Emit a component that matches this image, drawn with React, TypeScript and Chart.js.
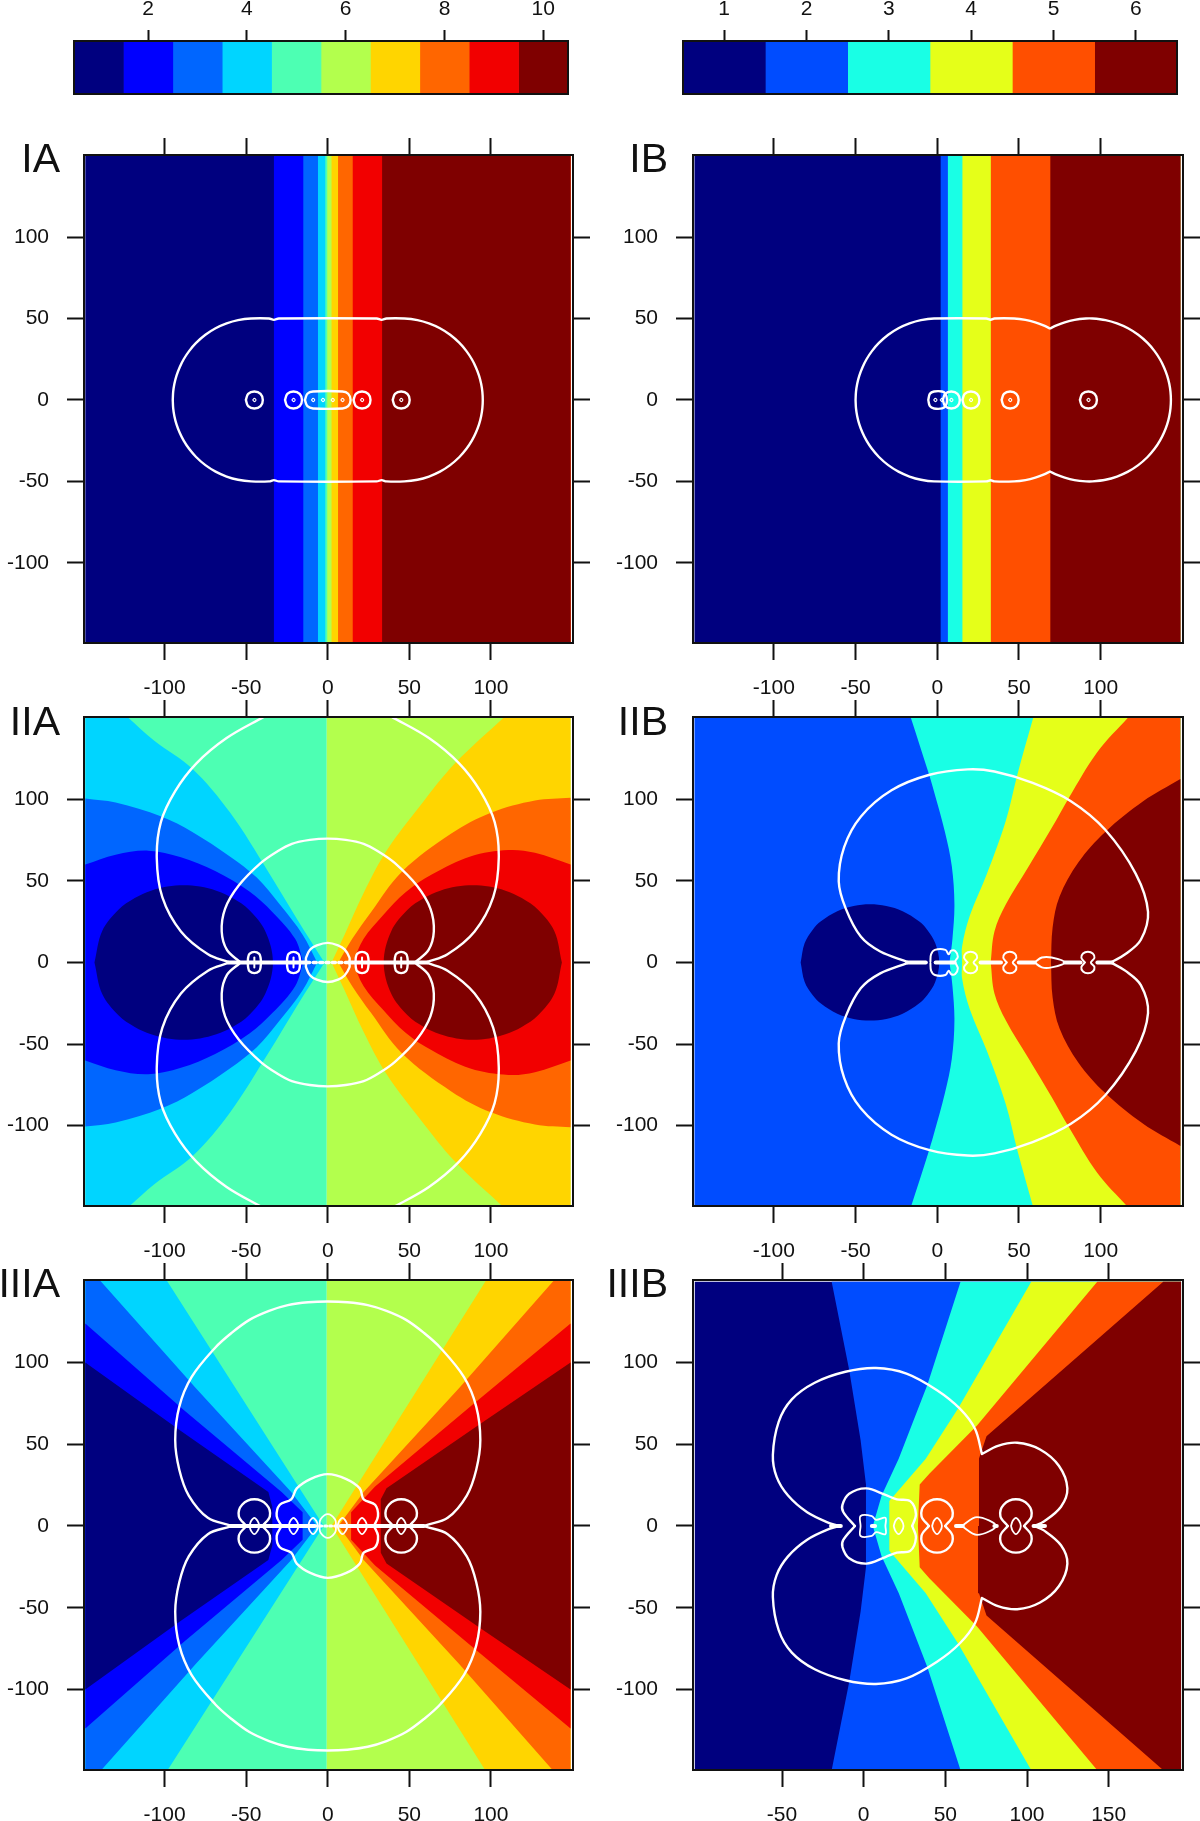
import React, { useEffect, useRef } from "react";
import { Chart, registerables } from "chart.js";

Chart.register(...registerables);

type Pt = [number, number];

// ---------- colours ----------
const JET10 = ["#00007F", "#0000FF", "#0066FF", "#00D5FF", "#4DFFB3", "#B3FF4D", "#FFD500", "#FF6600", "#F20000", "#7F0000"];
const JET6 = ["#00007F", "#004CFF", "#19FFE5", "#E5FF19", "#FF4F00", "#7F0000"];

// ---------- ticks ----------
const BAR_TICKS_A = [2, 4, 6, 8, 10];
const BAR_TICKS_B = [1, 2, 3, 4, 5, 6];
const X_TICKS = [-100, -50, 0, 50, 100];
const X_TICKS_IIIB = [-50, 0, 50, 100, 150];
const Y_TICKS = [-100, -50, 0, 50, 100];

// ---------- field limits of the image inside the box ----------
const XL = -148.6, XR = 148.8, YT = 150.6, YT3 = 149.3;
const XL3 = -103.4, XR3 = 194.3;

// ---------- IA / IB: vertical boundaries ----------
const IA_BOUNDS = [-33, -15, -6, -1.5, -0.3, 2.3, 6.3, 15.3, 33.3];
const IB_BOUNDS = [2.1, 6.5, 15.4, 32.8, 69.2];

// ---------- IIA boundaries (y >= 0) ----------
const IIA_CYAN: Pt[] = [[-2, 0], [-8.4, 10], [-20, 28.5], [-36.4, 55.5], [-60, 92], [-83, 118.7], [-106.5, 136], [-123, YT]];
const IIA_LBLUE: Pt[] = [[-6.5, 0], [-15.4, 17], [-29.5, 35.6], [-43.5, 52], [-60, 65], [-83, 80], [-102, 89.5], [-130, 98], [XL, 100.5]];
const IIA_BLUE: Pt[] = [[-15, 0], [-20, 14.5], [-34, 31], [-48, 43.5], [-69, 56], [-90, 64.5], [-110, 68.5], [-130, 66], [XL, 60]];
const IIA_NAVY: Pt[] = [[-143, 0], [-138.3, 19.2], [-128.3, 32.3], [-118.3, 39.5], [-108.3, 44], [-98.3, 46.5], [-88.3, 47.3], [-78.3, 46.5], [-68.3, 44], [-58.3, 39.5], [-48.3, 32.3], [-38.3, 19.2], [-33.6, 0]];
const IIA_YELLOW: Pt[] = [[2.3, 0], [10.3, 17], [22, 42.6], [36, 68.4], [57, 96.5], [78, 122], [108.4, YT]];
const IIA_ORANGE: Pt[] = [[6.5, 0], [15, 14.5], [26.6, 31], [45.3, 55.5], [75.7, 79], [100, 91.8], [127, 99.3], [XR, 101]];
const IIA_RED: Pt[] = [[15.4, 0], [22, 14.5], [33.6, 28.6], [47.7, 43], [64, 54], [87.4, 65], [110.7, 68.9], [127, 67.2], [XR, 60]];
const IIA_MAROON: Pt[] = [[143.5, 0], [138.9, 19.2], [128.9, 32.3], [118.9, 39.5], [108.9, 44], [98.9, 46.5], [88.9, 47.3], [78.9, 46.5], [68.9, 44], [58.9, 39.5], [48.9, 32.3], [38.9, 19.2], [34.3, 0]];

// ---------- IIB boundaries ----------
const IIB_NAVY: Pt[] = [[-83.6, 0], [-81.2, 11.8], [-76.2, 20.1], [-71.2, 25.2], [-61.2, 31.4], [-51.2, 34.6], [-41.2, 35.6], [-31.2, 34.6], [-21.2, 31.4], [-11.2, 25.2], [-6.2, 20.1], [-1.2, 11.8], [1.2, 0]];
const IIB_TURQ: Pt[] = [[7.5, 0], [9.3, 14.5], [10.5, 35.6], [8.9, 59], [4.7, 80], [-2.3, 105.9], [-5.8, 117.6], [-16.4, YT]];
const IIB_YELLOW: Pt[] = [[15.2, 0], [15.2, 9.8], [19.9, 28.6], [30.4, 54.3], [42, 87], [49, 115], [58.9, YT]];
const IIB_ORANGE: Pt[] = [[32.7, 0], [35, 19], [42, 35.6], [56, 59], [70, 82.4], [80.6, 101], [98, 129], [117.3, YT]];
const IIB_MAROON: Pt[] = [[69.6, 0], [70.6, 21.5], [74.8, 40.3], [86.4, 61.4], [102.8, 80], [126, 98.8], [XR, 112.4]];

// ---------- IIIA boundaries ----------
const IIIA_CYAN: Pt[] = [[-2.5, 0], [-99, YT]];
const IIIA_LBLUE: Pt[] = [[-6.5, 0], [-22.4, 20.8], [-80.8, 84.2], [-140, YT]];
const IIIA_BLUE: Pt[] = [[-15.4, 0], [-15.4, 8.4], [-28.3, 20.8], [-87.9, 70.6], [XL, 123.8]];
const IIIA_NAVY: Pt[] = [[-34, 0], [-34, 11.8], [-36.4, 20.8], [-90, 58], [XL, 100]];
const IIIA_YELLOW: Pt[] = [[2.3, 0], [97.3, YT]];
const IIIA_ORANGE: Pt[] = [[6.5, 0], [22, 20.8], [80.4, 84.2], [139, YT]];
const IIIA_RED: Pt[] = [[14.3, 0], [14.3, 8.4], [29, 24.2], [87.4, 73], [XR, 123.8]];
const IIIA_MAROON: Pt[] = [[32.5, 0], [32.5, 16.3], [36, 23], [92, 61.5], [XR, 100]];

// ---------- IIIB boundaries ----------
const IIIB_BLUE: Pt[] = [[1.4, 0], [1.4, 25.3], [-1.9, 52.5], [-8.9, 95.5], [-19.6, YT3]];
const IIIB_TURQ: Pt[] = [[5.6, 0], [11, 18.6], [21.5, 41.2], [39, 86.4], [59.3, YT3]];
const IIIB_YELLOW: Pt[] = [[15.7, 0], [15.7, 15.2], [37.9, 41], [57.7, 71.7], [102.6, YT3]];
const IIIB_ORANGE: Pt[] = [[33.2, 0], [34.3, 25.3], [40.2, 32], [69.4, 61.5], [143, YT3]];
const IIIB_MAROON: Pt[] = [[70, 0], [70.6, 41.2], [75.2, 54.8], [183.4, YT3]];

// ---------- white contours (y >= 0) ----------
const IA_OUTER: Pt[] = [[-95, 0], [-94.75, 5], [-94, 10], [-92.7, 15], [-90.8, 20], [-88.3, 25], [-85, 30], [-80.7, 35], [-75, 40], [-68.75, 44], [-62, 47], [-55, 49], [-47, 50], [-36, 50], [-33, 49.2], [-30, 50], [30, 50], [33, 49.2], [36, 50], [47, 50], [55, 49], [62, 47], [68.75, 44], [75, 40], [80.7, 35], [85, 30], [88.3, 25], [90.8, 20], [92.7, 15], [94, 10], [94.75, 5], [95, 0]];
const IA_PILL: Pt[] = [[-14, 0], [-12.5, 3.8], [-9, 5.2], [9, 5.2], [12.5, 3.8], [14, 0]];
const IA_RINGS = [-45, -21, 21, 45];
const IA_DOTS = [-45, -21, -9, -3, 3, 9, 21, 45];

const IB_OUTER: Pt[] = [[-50, 0], [-49.75, 5], [-49, 10], [-47.7, 15], [-45.8, 20], [-43.3, 25], [-40, 30], [-35.7, 35], [-30, 40], [-23.75, 44], [-17, 47], [-10, 49], [-2, 50], [30, 50], [32.7, 49.3], [35, 50], [47, 50], [54, 49.2], [60, 47.7], [65, 45.8], [69, 43.9], [69, 43.9], [73, 45.8], [78, 47.7], [84, 49.2], [91, 50], [95, 50], [103, 49], [110, 47], [116.75, 44], [123, 40], [128.7, 35], [133, 30], [136.3, 25], [138.8, 20], [140.7, 15], [142, 10], [142.75, 5], [143, 0]];
const IB_PILL: Pt[] = [[-5.5, 0], [-4.5, 3.8], [-2, 5.2], [3, 5.2], [5, 3.8], [6, 0]];
const IB_RINGS = [8.6, 20.6, 44.6, 92.5];
const IB_DOTS = [-1.2, 2.8, 8.6, 20.6, 44.6, 92.5];

const IIA_OUTER_L: Pt[] = [[-61, 0.3], [-73.4, 5], [-90, 19], [-101.4, 40], [-104.8, 64], [-102.3, 86], [-93.5, 105], [-80.5, 122], [-62, 137.5], [-39, 150.6]];
const IIA_OUTER_R: Pt[] = [[39, 150.6], [62, 137.5], [80.5, 122], [93.5, 105], [102.3, 86], [104.8, 64], [101.4, 40], [90, 19], [73.4, 5], [61, 0.3]];
const IIA_INNER: Pt[] = [[-54, 0.5], [-61.7, 7.5], [-65, 19], [-62.9, 33], [-54.7, 47], [-41, 61], [-31, 68], [-22, 72.7], [-11, 75.1], [0, 75.9], [11, 75.1], [22, 72.7], [31, 68], [41, 61], [54.7, 47], [62.9, 33], [65, 19], [61.7, 7.5], [54, 0.5]];
const IIA_CENTER: Pt[] = [[-13.3, 0.3], [-13.3, 3], [-10.8, 8], [-6.7, 10.5], [0, 12], [6.3, 10.5], [10.3, 8], [13.3, 3], [13.3, 0.3]];
const IIA_CELLS = [-45, -21, 21, 45];
const IIA_AXIS: Pt[] = [[-61, 0], [-13, 0]];
const IIA_AXIS_R: Pt[] = [[13, 0], [61, 0]];
const IIA_AXIS_C: Pt[] = [[-13, 0], [13, 0]];

const IIB_OUTER: Pt[] = [[-18.4, 0.4], [-34.9, 6.7], [-46.7, 15.7], [-56, 33], [-60.3, 49.6], [-57, 70.7], [-46.7, 89.5], [-28, 105.5], [-4.7, 115], [18.7, 118.3], [35, 117], [58.4, 110], [81.8, 98.8], [102.8, 81.3], [121.5, 54.3], [129, 31], [124.6, 13.9], [115, 5], [107, 0.4]];
const IIB_PILL: Pt[] = [[-4.2, 0.5], [-3.8, 5], [-1.5, 7.7], [5, 7.7], [7, 5], [8.5, 7.2], [11, 7], [12.6, 3.5], [11, 0.5]];
const IIB_DIAMOND: Pt[] = [[59.6, 0], [64, 3], [70, 3], [78, 0]];
const IIB_CELLS = [20.4, 44.4, 92.2];
const IIB_SEGS: Pt[][] = [[[-18.4, 0], [-7, 0]], [[-1, 0], [10.5, 0]], [[26.5, 0], [39, 0]], [[49.9, 0], [59.6, 0]], [[78, 0], [87.7, 0]], [[98, 0], [107, 0]]];

const IIIA_OUTER: Pt[] = [[-60, 0.4], [-73.5, 5], [-85.2, 18.6], [-91, 34.4], [-93.5, 52.5], [-91, 73], [-83.5, 91], [-69, 109], [-59, 118], [-48, 126], [-36, 131.5], [-24.5, 135], [-12, 136.8], [0, 137.3], [12, 136.8], [24.5, 135], [36, 131.5], [48, 126], [59, 118], [69, 109], [83.5, 91], [91, 73], [93.5, 52.5], [91, 34.4], [85.2, 18.6], [73.5, 5], [60, 0.4]];
const IIIA_INNER: Pt[] = [[-28.3, 0], [-31.3, 6], [-29.4, 13], [-22.4, 16.3], [-19, 23], [-10.7, 28.7], [0, 31.7], [11.4, 28.7], [19.6, 23], [22, 16.3], [29, 13], [30.8, 6], [28.3, 0]];
const IIIA_DOME: Pt[] = [[-5, 0], [-4.5, 4], [0, 7.3], [4.5, 4], [5, 0]];
const IIIA_LOBES = [-45, 45];
const IIIA_PINCH = [-45, -21, -9, 9, 21, 45];
const IIIA_AXIS: Pt[] = [[-60, 0], [-8, 0]];
const IIIA_AXIS_R: Pt[] = [[8, 0], [59, 0]];
const IIIA_AXIS_C: Pt[] = [[-8, 0], [8, 0]];

const IIIB_OUTER: Pt[] = [[-14.7, 0], [-20.6, 1.6], [-34.6, 8.4], [-46.3, 18.6], [-53.3, 30], [-55.6, 43.4], [-52, 63.8], [-44, 77.4], [-30, 87.6], [-11.2, 94.3], [7.5, 96.6], [26.2, 93.2], [44.9, 83], [58.9, 71.7], [68.2, 59.3], [72.4, 44], [72.4, 44], [82.2, 49], [94, 50.9], [108, 46.8], [119.6, 36.7], [124.7, 23], [120.8, 11.8], [110.3, 2.7], [104.4, 0]];
const IIIB_INNER: Pt[] = [[-5.4, 0], [-12.4, 8.4], [-13, 12.9], [-8.9, 19.7], [1.6, 23], [13.3, 19], [20.3, 16.3], [28.5, 15.2], [32, 7.2], [29.7, 0]];
const IIIB_PILL: Pt[] = [[-1.9, 0], [-1.9, 6.1], [5, 6.1], [7.5, 3.8], [13.3, 5], [13.3, 0]];
const IIIB_DIAMOND: Pt[] = [[60, 0], [69.4, 5.4], [81, 0]];
const IIIB_LOBES = [44.9, 93.2];
const IIIB_PINCH = [21.4, 44.9, 93.2];
const IIIB_SEGS: Pt[][] = [[[-20, 0], [-14, 0]], [[5, 0], [7, 0]], [[56.5, 0], [60.7, 0]], [[80, 0], [81.5, 0]], [[104, 0], [111, 0]]];

// small outlines, offsets around an electrode
const RING: Pt[] = [[-5.2, 0], [-3.8, 3.8], [0, 5.2], [3.8, 3.8], [5.2, 0]];
const DOT: Pt[] = [[-1, 0], [0, 1], [1, 0]];
const CELL: Pt[] = [[-4, 0.3], [-3.8, 3], [-3, 5.3], [0, 6.5], [3, 5.3], [3.8, 3], [4, 0.3]];
const CELL8: Pt[] = [[-1.8, 0], [-4, 2.8], [-3, 5.5], [0, 6.6], [3, 5.5], [4, 2.8], [1.8, 0]];
const CELL_BAR: Pt[] = [[0, -3], [0, 3]];
const LOBE: Pt[] = [[-5, 0], [-9.5, 6], [-7.5, 13], [0, 16.3], [7.5, 13], [9.5, 6], [5, 0]];
const PINCH: Pt[] = [[-3, 0], [-2, 3], [0, 5], [2, 3], [3, 0]];

// ---------- helpers for building datasets ----------
const WHITE_W = 2.4;
const loop = (u: Pt[]): Pt[] => [...u, ...[...u].reverse().slice(1).map(([x, y]): Pt => [x, -y])];
const flip = (u: Pt[]): Pt[] => u.map(([x, y]): Pt => [x, -y]);
const shift = (u: Pt[], c: number): Pt[] => u.map(([x, y]): Pt => [x + c, y]);
const toEdge = (c: Pt[], edge: number): Pt[] => {
  const last = c[c.length - 1];
  const corner: Pt = [edge, last[1]];
  return [...c, last, corner, corner, [edge, 0]];
};
const vert = (x: number, top = YT): Pt[] => [[x, 0], [x, top]];

const area = (u: Pt[], color: string, tension = 0) => ({
  data: loop(u).map(([x, y]) => ({ x, y })),
  showLine: true, fill: "shape", backgroundColor: color, borderWidth: 0, pointRadius: 0, tension,
});
const stroke = (pts: Pt[], w = WHITE_W, dash: number[] = [], tension = 0.35) => ({
  data: pts.map(([x, y]) => ({ x, y })),
  showLine: true, fill: false, borderColor: "#FFFFFF", borderWidth: w, borderDash: dash,
  borderJoinStyle: "round", borderCapStyle: "round", pointRadius: 0, tension,
});
const both = (u: Pt[], w = WHITE_W) => [stroke(u, w), stroke(flip(u), w)];
const closed = (u: Pt[], w = WHITE_W) => [stroke(loop(u), w)];
const CURVE = 0.35;
const THICK = 4;

const bands = (bounds: number[], colors: string[], xl: number, xr: number) => [
  area(toEdge(vert(xl), xr), colors[0]),
  ...bounds.map((b, i) => area(toEdge(vert(b), xr), colors[i + 1])),
];

const datasetsIA = [
  ...bands(IA_BOUNDS, JET10, XL, XR),
  ...closed(IA_OUTER), ...closed(IA_PILL),
  ...IA_RINGS.flatMap((c) => closed(shift(RING, c))),
  ...IA_DOTS.flatMap((c) => closed(shift(DOT, c), 1.1)),
];
const datasetsIB = [
  ...bands(IB_BOUNDS, JET6, XL, XR),
  ...closed(IB_OUTER), ...closed(IB_PILL),
  ...IB_RINGS.flatMap((c) => closed(shift(RING, c))),
  ...IB_DOTS.flatMap((c) => closed(shift(DOT, c), 1.1)),
];
const datasetsIIA = [
  area(toEdge(vert(-0.6), XL), JET10[4]),
  area(toEdge(vert(-0.6), XR), JET10[5]),
  area(toEdge(IIA_CYAN, XL), JET10[3], CURVE),
  area(toEdge(IIA_LBLUE, XL), JET10[2], CURVE),
  area(toEdge(IIA_BLUE, XL), JET10[1], CURVE),
  area(IIA_NAVY, JET10[0], CURVE),
  area(toEdge(IIA_YELLOW, XR), JET10[6], CURVE),
  area(toEdge(IIA_ORANGE, XR), JET10[7], CURVE),
  area(toEdge(IIA_RED, XR), JET10[8], CURVE),
  area(IIA_MAROON, JET10[9], CURVE),
  ...both(IIA_OUTER_L), ...both(IIA_OUTER_R), ...both(IIA_INNER), ...both(IIA_CENTER),
  ...IIA_CELLS.flatMap((c) => closed(shift(CELL, c))),
  ...IIA_CELLS.map((c) => stroke(shift(CELL_BAR, c), 2)),
  stroke(IIA_AXIS, THICK), stroke(IIA_AXIS_R, THICK), stroke(IIA_AXIS_C, 3.5, [3, 3.5]),
];
const datasetsIIB = [
  area(toEdge(vert(XL), XR), JET6[1]),
  area(IIB_NAVY, JET6[0], CURVE),
  area(toEdge(IIB_TURQ, XR), JET6[2], CURVE),
  area(toEdge(IIB_YELLOW, XR), JET6[3], CURVE),
  area(toEdge(IIB_ORANGE, XR), JET6[4], CURVE),
  area(toEdge(IIB_MAROON, XR), JET6[5], CURVE),
  ...both(IIB_OUTER), ...closed(IIB_PILL, 2), ...closed(IIB_DIAMOND, 2),
  ...IIB_CELLS.flatMap((c) => closed(shift(CELL8, c), 2)),
  ...IIB_SEGS.map((s) => stroke(s, THICK)),
];
const datasetsIIIA = [
  area(toEdge(vert(-0.6), XL), JET10[4]),
  area(toEdge(vert(-0.6), XR), JET10[5]),
  area(toEdge(IIIA_CYAN, XL), JET10[3]),
  area(toEdge(IIIA_LBLUE, XL), JET10[2]),
  area(toEdge(IIIA_BLUE, XL), JET10[1]),
  area(toEdge(IIIA_NAVY, XL), JET10[0]),
  area(toEdge(IIIA_YELLOW, XR), JET10[6]),
  area(toEdge(IIIA_ORANGE, XR), JET10[7]),
  area(toEdge(IIIA_RED, XR), JET10[8]),
  area(toEdge(IIIA_MAROON, XR), JET10[9]),
  ...both(IIIA_OUTER), ...both(IIIA_INNER), ...closed(IIIA_DOME, 1.8),
  ...IIIA_LOBES.flatMap((c) => both(shift(LOBE, c))),
  ...IIIA_PINCH.flatMap((c) => closed(shift(PINCH, c), 1.8)),
  stroke(IIIA_AXIS, THICK), stroke(IIIA_AXIS_R, THICK), stroke(IIIA_AXIS_C, 3, [2, 3]),
];
const datasetsIIIB = [
  area(toEdge(vert(XL3, YT3), XR3), JET6[0]),
  area(toEdge(IIIB_BLUE, XR3), JET6[1]),
  area(toEdge(IIIB_TURQ, XR3), JET6[2]),
  area(toEdge(IIIB_YELLOW, XR3), JET6[3]),
  area(toEdge(IIIB_ORANGE, XR3), JET6[4]),
  area(toEdge(IIIB_MAROON, XR3), JET6[5]),
  ...both(IIIB_OUTER), ...both(IIIB_INNER), ...closed(IIIB_PILL, 1.8), ...closed(IIIB_DIAMOND, 1.8),
  ...IIIB_LOBES.flatMap((c) => both(shift(LOBE, c))),
  ...IIIB_PINCH.flatMap((c) => closed(shift(PINCH, c), 1.8)),
  ...IIIB_SEGS.map((s) => stroke(s, THICK)),
];

const FONT = "'Liberation Sans', Arial, sans-serif";
const INK = "#111111";

// ---------- scale helpers ----------
const fixTicks = (values: number[]) => (s: any) => { s.ticks = values.map((value) => ({ value })); };
const noPad = (s: any) => { s.paddingTop = 0; s.paddingBottom = 0; s.paddingLeft = 0; s.paddingRight = 0; };

const axis = (position: string, min: number, max: number, ticks: number[], labels: boolean, size: number, len: number, pad: number, fontSize: number) => ({
  type: "linear", position, min, max,
  afterBuildTicks: fixTicks(ticks),
  afterFit: (s: any) => { if (position === "left" || position === "right") s.width = size; else s.height = size; noPad(s); },
  ticks: {
    display: labels, autoSkip: false, maxRotation: 0, padding: pad, color: INK,
    font: { family: FONT, size: fontSize }, callback: (v: any) => String(v),
  },
  grid: { display: true, drawOnChartArea: false, drawTicks: true, tickLength: len, tickColor: INK, tickWidth: 2 },
  border: { display: true, color: INK, width: 2, z: 2 },
});

const panelConfig = (datasets: any[], xMin: number, xMax: number, xTicks: number[]) => ({
  type: "scatter",
  data: { datasets: datasets.map((d, i) => ({ ...d, order: datasets.length - i })) },
  options: {
    responsive: false, animation: false, devicePixelRatio: 1, events: [],
    layout: { padding: 0 },
    plugins: { legend: { display: false }, tooltip: { enabled: false }, title: { display: false } },
    scales: {
      x: axis("bottom", xMin, xMax, xTicks, true, 60, 17, 16, 21),
      xTop: { ...axis("top", xMin, xMax, xTicks, false, 20, 17, 0, 21), axis: "x" },
      y: axis("left", -149.2, 150.4, Y_TICKS, true, 84, 17, 18, 21),
      yRight: { ...axis("right", -149.2, 150.4, Y_TICKS, false, 22, 17, 0, 21), axis: "y" },
    },
  },
});

const barConfig = (colors: string[], ticks: number[]) => ({
  type: "bar",
  data: {
    labels: ["c"],
    datasets: colors.map((c, i) => ({
      data: [[i + 0.5, i + 1.5]], backgroundColor: c, borderWidth: 0,
      barPercentage: 1, categoryPercentage: 1, grouped: false,
    })),
  },
  options: {
    indexAxis: "y", responsive: false, animation: false, devicePixelRatio: 1, events: [],
    layout: { padding: 0 },
    plugins: { legend: { display: false }, tooltip: { enabled: false } },
    scales: {
      x: { ...axis("top", 0.5, colors.length + 0.5, ticks, true, 41, 11, 8, 21) },
      xBottom: { ...axis("bottom", 0.5, colors.length + 0.5, [], false, 8, 0, 0, 21), axis: "x", grid: { display: false, drawTicks: false } },
      y: {
        type: "category", position: "left",
        afterFit: (s: any) => { s.width = 2; noPad(s); },
        ticks: { display: false }, grid: { display: false, drawTicks: false },
        border: { display: true, color: INK, width: 2, z: 2 },
      },
      yRight: {
        ...axis("right", 0, 1, [], false, 2, 0, 0, 21), axis: "y", grid: { display: false, drawTicks: false },
      },
    },
  },
});

function ChartBox({ config, left, top, width, height }: any) {
  const ref = useRef<HTMLCanvasElement>(null);
  useEffect(() => {
    const chart = new Chart(ref.current as HTMLCanvasElement, config);
    return () => chart.destroy();
  }, [config]);
  return <canvas ref={ref} width={width} height={height} style={{ position: "absolute", left, top, width, height }} />;
}

const COL_A = { left: 0, L: 84, R: 573 };
const COL_B = { left: 609, L: 693, R: 1183 };
const ROWS = [{ T: 155, B: 643 }, { T: 717, B: 1206 }, { T: 1280, B: 1770 }];

const panels = [
  { col: COL_A, row: ROWS[0], ds: datasetsIA, xMin: -149.4, xMax: 150.3, ticks: X_TICKS },
  { col: COL_B, row: ROWS[0], ds: datasetsIB, xMin: -149.5, xMax: 150.4, ticks: X_TICKS },
  { col: COL_A, row: ROWS[1], ds: datasetsIIA, xMin: -149.4, xMax: 150.3, ticks: X_TICKS },
  { col: COL_B, row: ROWS[1], ds: datasetsIIB, xMin: -149.5, xMax: 150.4, ticks: X_TICKS },
  { col: COL_A, row: ROWS[2], ds: datasetsIIIA, xMin: -149.4, xMax: 150.3, ticks: X_TICKS },
  { col: COL_B, row: ROWS[2], ds: datasetsIIIB, xMin: -104.5, xMax: 195.5, ticks: X_TICKS_IIIB },
].map((p) => {
  const width = p.col.R + 22 - p.col.left;
  const height = p.row.B + 60 - (p.row.T - 20);
  return { left: p.col.left, top: p.row.T - 20, width, height, config: panelConfig(p.ds, p.xMin, p.xMax, p.ticks) };
});

const bars = [
  { left: 72, top: 0, width: 498, height: 102, config: barConfig(JET10, BAR_TICKS_A) },
  { left: 681, top: 0, width: 498, height: 102, config: barConfig(JET6, BAR_TICKS_B) },
];

const PANEL_LABELS = [
  { text: "IA", right: 60, base: 172.5 },
  { text: "IB", right: 668, base: 172.5 },
  { text: "IIA", right: 60, base: 736 },
  { text: "IIB", right: 668, base: 736 },
  { text: "IIIA", right: 60, base: 1298 },
  { text: "IIIB", right: 668, base: 1298 },
];

export default function App() {
  return (
    <div style={{ position: "absolute", left: 0, top: 0, width: 1200, height: 1821, overflow: "hidden", background: "#fff", fontFamily: FONT }}>
      {bars.map((b, i) => <ChartBox key={"b" + i} {...b} />)}
      {panels.map((p, i) => <ChartBox key={"p" + i} {...p} />)}
      {PANEL_LABELS.map((l) => (
        <div key={l.text} style={{ position: "absolute", top: l.base - 34.7, left: l.right - 100, width: 100, textAlign: "right", fontSize: 41, lineHeight: 1, color: INK }}>
          {l.text}
        </div>
      ))}
    </div>
  );
}
